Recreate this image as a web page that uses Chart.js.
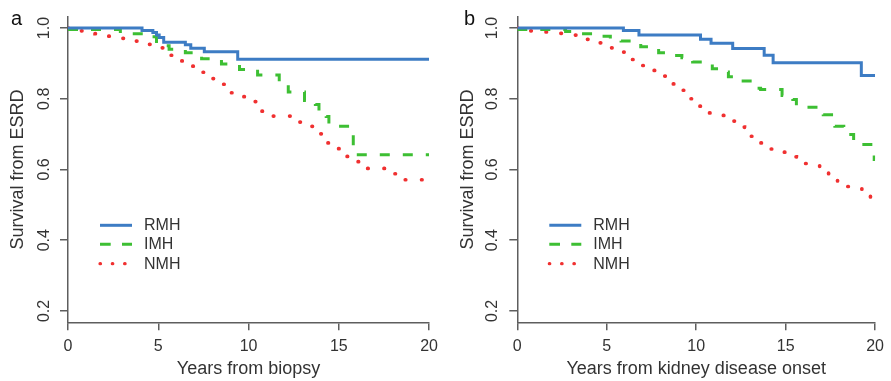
<!DOCTYPE html>
<html>
<head>
<meta charset="utf-8">
<script src="https://cdn.jsdelivr.net/npm/chart.js@4.4.1/dist/chart.umd.min.js"></script>
<style>
  html, body { margin: 0; padding: 0; background: #fff; overflow: hidden; }
  #wrap { position: relative; width: 891px; height: 381px; }
  canvas { position: absolute; top: 0; }
  .lbl { position: absolute; font-family: "Liberation Sans", Arial, sans-serif; font-size: 20px; line-height: 20px; color: #111; }
</style>
</head>
<body>
<div id="wrap">
  <canvas id="cA" width="445" height="381" style="left:0px"></canvas>
  <canvas id="cB" width="446" height="381" style="left:445px"></canvas>
  <div class="lbl" style="left:11px; top:8px;">a</div>
  <div class="lbl" style="left:464px; top:8px;">b</div>
</div>
<script>
// ---------- data ----------
const seriesNames = ["RMH", "IMH", "NMH"];
const xTicks = [0, 5, 10, 15, 20];
const yTicks = [0.2, 0.4, 0.6, 0.8, 1.0];

// Panel a: years from biopsy
const rmhA_t = [0, 4.1, 4.7, 4.9, 5.05, 5.3, 6.5, 6.8, 7.55, 9.4, 20];
const rmhA_s = [1.0, 0.993, 0.987, 0.98, 0.973, 0.96, 0.953, 0.943, 0.933, 0.912, 0.912];
const imhA_t = [0, 2.9, 4.6, 4.9, 5.2, 5.6, 6.5, 7.4, 8.5, 9.5, 10.5, 11.7, 12.2, 13.1, 13.7, 13.9, 14.3, 14.45, 15.8, 20];
const imhA_s = [0.996, 0.984, 0.975, 0.962, 0.950, 0.940, 0.930, 0.913, 0.898, 0.883, 0.867, 0.842, 0.819, 0.795, 0.784, 0.760, 0.750, 0.722, 0.642, 0.642];
const nmhA_t = [0, 0.7, 1.5, 2.2, 3.0, 3.7, 4.45, 5.15, 5.6, 6.2, 6.8, 7.4, 7.9, 8.45, 8.9, 9.5, 10.1, 10.5, 11.1, 12.55, 13.2, 13.7, 14.07, 14.7, 15.1, 15.7, 16.2, 17.7, 18.3, 20];
const nmhA_s = [1.0, 0.992, 0.984, 0.977, 0.971, 0.963, 0.954, 0.944, 0.923, 0.907, 0.892, 0.875, 0.857, 0.841, 0.817, 0.806, 0.792, 0.765, 0.751, 0.734, 0.722, 0.701, 0.675, 0.659, 0.637, 0.622, 0.603, 0.588, 0.571, 0.571];

// Panel b: years from kidney disease onset
const rmhB_t = [0, 5.93, 6.8, 10.24, 10.83, 12.04, 13.8, 14.3, 19.23, 20];
const rmhB_s = [1.0, 0.993, 0.98, 0.968, 0.957, 0.942, 0.923, 0.902, 0.866, 0.866];
const imhB_t = [0, 2.7, 3.5, 4.6, 5.2, 5.8, 6.9, 7.9, 8.6, 9.2, 9.8, 10.9, 11.4, 11.8, 12.3, 13.2, 13.6, 14.8, 15.4, 15.6, 17.1, 17.75, 18.25, 18.8, 19.95, 20];
const imhB_s = [0.996, 0.99, 0.984, 0.977, 0.97, 0.963, 0.947, 0.93, 0.922, 0.916, 0.904, 0.885, 0.876, 0.862, 0.85, 0.83, 0.826, 0.809, 0.798, 0.776, 0.755, 0.722, 0.699, 0.671, 0.628, 0.628];
const nmhB_t = [0, 0.7, 1.58, 2.4, 3.2, 3.8, 4.5, 5.1, 5.75, 6.24, 6.8, 7.4, 8.0, 8.46, 8.95, 9.4, 9.87, 10.4, 11.15, 11.7, 12.26, 12.7, 13.2, 13.76, 14.4, 15.1, 15.6, 16.4, 16.9, 17.4, 17.9, 19.26, 19.74, 19.9];
const nmhB_s = [1.0, 0.992, 0.989, 0.985, 0.98, 0.968, 0.958, 0.944, 0.932, 0.911, 0.894, 0.88, 0.864, 0.842, 0.824, 0.8, 0.779, 0.76, 0.753, 0.737, 0.72, 0.694, 0.675, 0.658, 0.649, 0.636, 0.617, 0.611, 0.593, 0.569, 0.552, 0.534, 0.51, 0.505];

// ---------- styling ----------
const FONT = '"Liberation Sans", Arial, Helvetica, sans-serif';
const BLUE = '#3d7cc4', GREEN = '#3dbf33', RED = '#f03030';
const AXIS = '#5e5e5e', TXT = '#333333';
const COLORS = [BLUE, GREEN, RED];
const DASHES = [[], [10, 13], [0.5, 15.8]];
const LEG_DASHES = [[], [10.7, 11.3], [0.5, 11.8]];

function xy(ts, ss) { return ts.map((t, i) => ({ x: t, y: ss[i] })); }

const legendPlugin = {
  id: 'kmLegend',
  afterDatasetsDraw(chart) {
    const ctx = chart.ctx, L = chart.chartArea.left;
    const ys = [225.3, 244.3, 263.7];
    ctx.save();
    seriesNames.forEach((name, i) => {
      ctx.beginPath();
      ctx.setLineDash(LEG_DASHES[i]);
      ctx.lineCap = i === 2 ? 'round' : 'butt';
      ctx.lineWidth = i === 2 ? 3.2 : 3;
      ctx.strokeStyle = COLORS[i];
      ctx.moveTo(L + 32, ys[i]);
      ctx.lineTo(L + 64, ys[i]);
      ctx.stroke();
      ctx.setLineDash([]);
      ctx.fillStyle = TXT;
      ctx.font = '16px ' + FONT;
      ctx.textBaseline = 'middle';
      ctx.textAlign = 'left';
      ctx.fillText(name, L + 76, ys[i] + 0.5);
    });
    ctx.restore();
  }
};

function makeChart(id, sets, xTitle, o) {
  const datasets = sets.map((d, i) => ({
    label: seriesNames[i],
    data: xy(d[0], d[1]),
    borderColor: COLORS[i],
    borderWidth: i === 2 ? 3.7 : 3,
    borderDash: DASHES[i],
    borderCapStyle: i === 2 ? 'round' : 'butt',
    stepped: 'before',
    pointRadius: 0,
    fill: false,
    tension: 0
  }));
  return new Chart(document.getElementById(id), {
    type: 'line',
    data: { datasets },
    options: {
      responsive: false,
      animation: false,
      events: [],
      layout: { padding: { top: 16.7, right: o.padRight, left: 0, bottom: 0 } },
      plugins: { legend: { display: false }, tooltip: { enabled: false } },
      scales: {
        x: {
          type: 'linear', min: 0, max: 20,
          afterBuildTicks: s => { s.ticks = xTicks.map(v => ({ value: v })); },
          afterFit: s => { s.height = 58.7; },
          grid: { drawOnChartArea: false, drawTicks: true, tickLength: 8, color: AXIS, lineWidth: 1.5 },
          border: { display: true, color: AXIS, width: 1.5 },
          ticks: { font: { size: 16, family: FONT }, color: TXT, padding: 7, maxRotation: 0, autoSkip: false, callback: v => String(v) },
          title: { display: true, text: xTitle, color: TXT, font: { size: 18, family: FONT, lineHeight: 1 }, padding: { top: 0, bottom: 3.3 } }
        },
        y: {
          type: 'linear', min: 0.168, max: 1.032,
          afterBuildTicks: s => { s.ticks = yTicks.map(v => ({ value: v })); },
          afterFit: s => { s.width = o.yWidth; },
          grid: { drawOnChartArea: false, drawTicks: true, tickLength: 8, color: AXIS, lineWidth: 1.5 },
          border: { display: true, color: AXIS, width: 1.5 },
          ticks: { font: { size: 16, family: FONT }, color: TXT, padding: o.tickPad, minRotation: 90, maxRotation: 90, crossAlign: 'center', autoSkip: false, callback: v => v.toFixed(1) },
          title: { display: true, text: 'Survival from ESRD', color: TXT, font: { size: 18, family: FONT, lineHeight: 1 }, padding: { top: o.titlePad, bottom: 0 } }
        }
      }
    },
    plugins: [legendPlugin]
  });
}

makeChart('cA', [[rmhA_t, rmhA_s], [imhA_t, imhA_s], [nmhA_t, nmhA_s]], 'Years from biopsy',
  { padRight: 13, yWidth: 68, tickPad: 4.5, titlePad: 9.5 });
makeChart('cB', [[rmhB_t, rmhB_s], [imhB_t, imhB_s], [nmhB_t, nmhB_s]], 'Years from kidney disease onset',
  { padRight: 10.3, yWidth: 72.3, tickPad: 5.5, titlePad: 14.5 });
</script>
</body>
</html>
